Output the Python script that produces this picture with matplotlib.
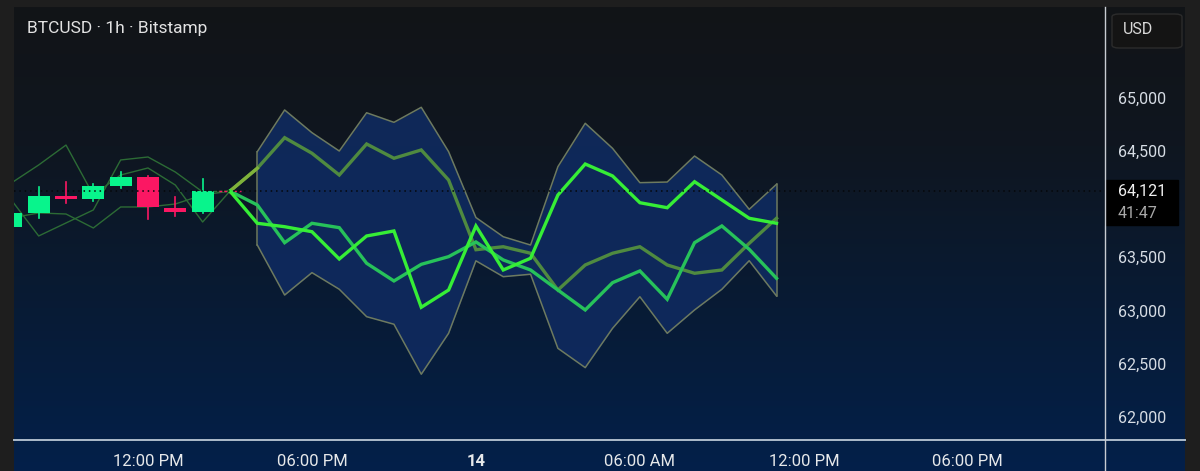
import numpy as np
import matplotlib
matplotlib.use('Agg')
import matplotlib.pyplot as plt
from matplotlib.colors import LinearSegmentedColormap
from matplotlib.patches import Rectangle, FancyBboxPatch
from matplotlib.lines import Line2D

plt.rcParams['font.family'] = ['Roboto', 'DejaVu Sans']

# hours counted from 13th 00:00
candle_hours = [7, 8, 9, 10, 11, 12, 13, 14, 15]
candle_open = [63784, 63913, 64078, 64047, 64169, 64250, 63966, 63922, 64121]
candle_close = [63916, 64078, 64047, 64169, 64250, 63969, 63922, 64122, 64119]
candle_high = [63916, 64162, 64206, 64185, 64297, 64260, 64068, 64235, 64140]
candle_low = [63784, 63872, 64009, 64031, 64150, 63859, 63890, 63915, 64105]

# older forecast paths (thin)
old_path1 = [64197, 64366, 64553, 64084, 64272, 64338, 64178, 63831, 64121]
old_path2 = [64038, 63700, 63822, 63944, 64413, 64441, 64300, 64113, 64121]
old_path3 = [63869, 63916, 63906, 63775, 63972, 63972, 64000, 64084, 64121]

fc_hours = [15, 16, 17, 18, 19, 20, 21, 22, 23, 24, 25, 26, 27, 28, 29, 30,
            31, 32, 33, 34, 35]
band_hours = fc_hours[1:]
band_upper = [64491, 64882, 64669, 64497, 64856, 64766, 64907, 64491, 63873, 63693,
              63615, 64350, 64757, 64522, 64200, 64206, 64450, 64272, 63950, 64185]
band_lower = [63615, 63146, 63356, 63200, 62943, 62872, 62403, 62787, 63467, 63318,
              63341, 62646, 62465, 62834, 63130, 62787, 63006, 63200, 63468, 63137]
path_a = [64121, 63819, 63787, 63740, 63484, 63700, 63747, 63031, 63193, 63794, 63381,
          63491, 64084, 64375, 64263, 64012, 63965, 64209, 64038, 63866, 63819]
path_b = [64121, 63991, 63637, 63819, 63778, 63444, 63278, 63434, 63506, 63644, 63475,
          63381, 63193, 63006, 63262, 63372, 63106, 63637, 63794, 63575, 63303]
path_c = [64121, 64335, 64622, 64476, 64272, 64563, 64429, 64507, 64225, 63571, 63599,
          63538, 63193, 63428, 63538, 63599, 63428, 63350, 63381, 63631, 63866]

last_price = 64121
countdown = '41:47'
title = 'BTCUSD · 1h · Bitstamp'
y_ticks = [62000, 62500, 63000, 63500, 64500, 65000]
x_ticks = [12, 18, 24, 30, 36, 42]
x_labels = ['12:00 PM', '06:00 PM', '14', '06:00 AM', '12:00 PM', '06:00 PM']

W, H = 1200, 471
fig = plt.figure(figsize=(W / 100, H / 100), dpi=100)
fig.patch.set_facecolor('#1e1e1e')

# gradient panel
bg = fig.add_axes([14 / W, 0, (1185 - 14) / W, (H - 7) / H])
bg.set_axis_off()
cmap = LinearSegmentedColormap.from_list(
    'panel', [(0, '#121417'), (0.3, '#0f1620'), (0.65, '#081b35'), (1, '#03204a')])
grad = np.linspace(0, 1, 256).reshape(-1, 1)
bg.imshow(grad, aspect='auto', cmap=cmap, extent=[0, 1, 0, 1], origin='upper')
bg.set_xlim(0, 1)
bg.set_ylim(0, 1)

ax = fig.add_axes([14 / W, (H - 440) / H, (1105 - 14) / W, (440 - 7) / H])
ax.set_facecolor('none')
ax.set_xlim(7.097, 47.02)
ax.set_ylim(61786, 65848)
for s in ax.spines.values():
    s.set_visible(False)

# older thin paths
for p in (old_path1, old_path2, old_path3):
    ax.plot(candle_hours, p, color='#2c6b35', lw=1.0, zorder=2)

# candles
green, red = '#08f48c', '#fb1763'
for h, o, c, hi, lo in zip(candle_hours, candle_open, candle_close, candle_high, candle_low):
    col = green if c >= o else red
    if h == candle_hours[-1]:
        ax.plot([h - 0.4, h + 0.4], [o, o], color=red, lw=1, ls=(0, (2, 1.5)), zorder=4)
        ax.plot([h, h], [lo, hi], color=red, lw=1, zorder=4)
        continue
    ax.plot([h, h], [lo, hi], color=col, lw=1.2, zorder=3)
    ax.bar(h, max(abs(c - o), 25), bottom=min(o, c), width=0.8, color=col, zorder=3)

# forecast band
ax.fill_between(band_hours, band_lower, band_upper, color='#0f2a5e', alpha=0.92, lw=0, zorder=2)
ax.plot(band_hours, band_upper, color='#6d7a60', lw=1.1, zorder=3)
ax.plot(band_hours, band_lower, color='#6d7a60', lw=1.1, zorder=3)
ax.plot([band_hours[0]] * 2, [band_lower[0], band_upper[0]], color='#6d7a60', lw=1.1, zorder=3)
ax.plot([band_hours[-1]] * 2, [band_lower[-1], band_upper[-1]], color='#6d7a60', lw=1.1, zorder=3)

# forecast paths
ax.plot(fc_hours, path_c, color='#4f8a40', lw=2.4, zorder=5, solid_joinstyle='miter')
ax.plot(fc_hours[:2], path_c[:2], color='#80b23a', lw=2.4, zorder=5)
ax.plot(fc_hours, path_b, color='#27c25a', lw=2.4, zorder=6, solid_joinstyle='miter')
ax.plot(fc_hours, path_a, color='#36ee36', lw=2.4, zorder=7, solid_joinstyle='miter')

# last price dotted line
ax.axhline(last_price, color='#05070a', lw=1.1, ls=(0, (1, 2.5)), zorder=8)

# ticks
ax.set_xticks(x_ticks)
ax.set_xticklabels(x_labels)
ax.tick_params(axis='x', length=0, pad=10, labelsize=12, labelcolor='#e6e8ea')
ax.get_xticklabels()[2].set_fontweight('bold')
ax.yaxis.tick_right()
ax.set_yticks(y_ticks)
ax.set_yticklabels([f'{v:,}' for v in y_ticks])
ax.tick_params(axis='y', length=0, pad=9.5, labelsize=11.5, labelcolor='#d6dce4')

# price label box
tr = ax.get_yaxis_transform()
ax.add_patch(Rectangle((1.0, 63803), 73 / 1091, 422,
                       transform=tr, color='#000000', clip_on=False, zorder=9))
ax.text(1.0 + 13 / 1091, last_price, f'{last_price:,}', transform=tr, ha='left', va='center',
        fontsize=11.5, color='#f0f0f0', clip_on=False, zorder=10)
ax.text(1.0 + 13 / 1091, last_price - 206, countdown, transform=tr, ha='left', va='center',
        fontsize=11.5, color='#a8a8a8', clip_on=False, zorder=10)

# separators
fig.add_artist(Line2D([14 / W, 1185 / W], [(H - 440) / H] * 2, color='#aebccb', lw=1.4))
fig.add_artist(Line2D([1105 / W] * 2, [0, (H - 7) / H], color='#c8ccd2', lw=1.0))

# USD box
fig.add_artist(FancyBboxPatch((1112 / W, (H - 48) / H), 70 / W, 34 / H,
                              boxstyle='round,pad=0,rounding_size=0.006',
                              transform=fig.transFigure, facecolor='#141414',
                              edgecolor='#2c2c2c', lw=1))
fig.text(1138 / W, 1 - 30 / H, 'USD', ha='center', va='center', fontsize=11.5, color='#d8d8d8')

fig.text(27 / W, 1 - 28 / H, title, ha='left', va='center', fontsize=12.5, color='#e2e2e2')

fig.savefig('out.png', dpi=100, facecolor=fig.get_facecolor())
